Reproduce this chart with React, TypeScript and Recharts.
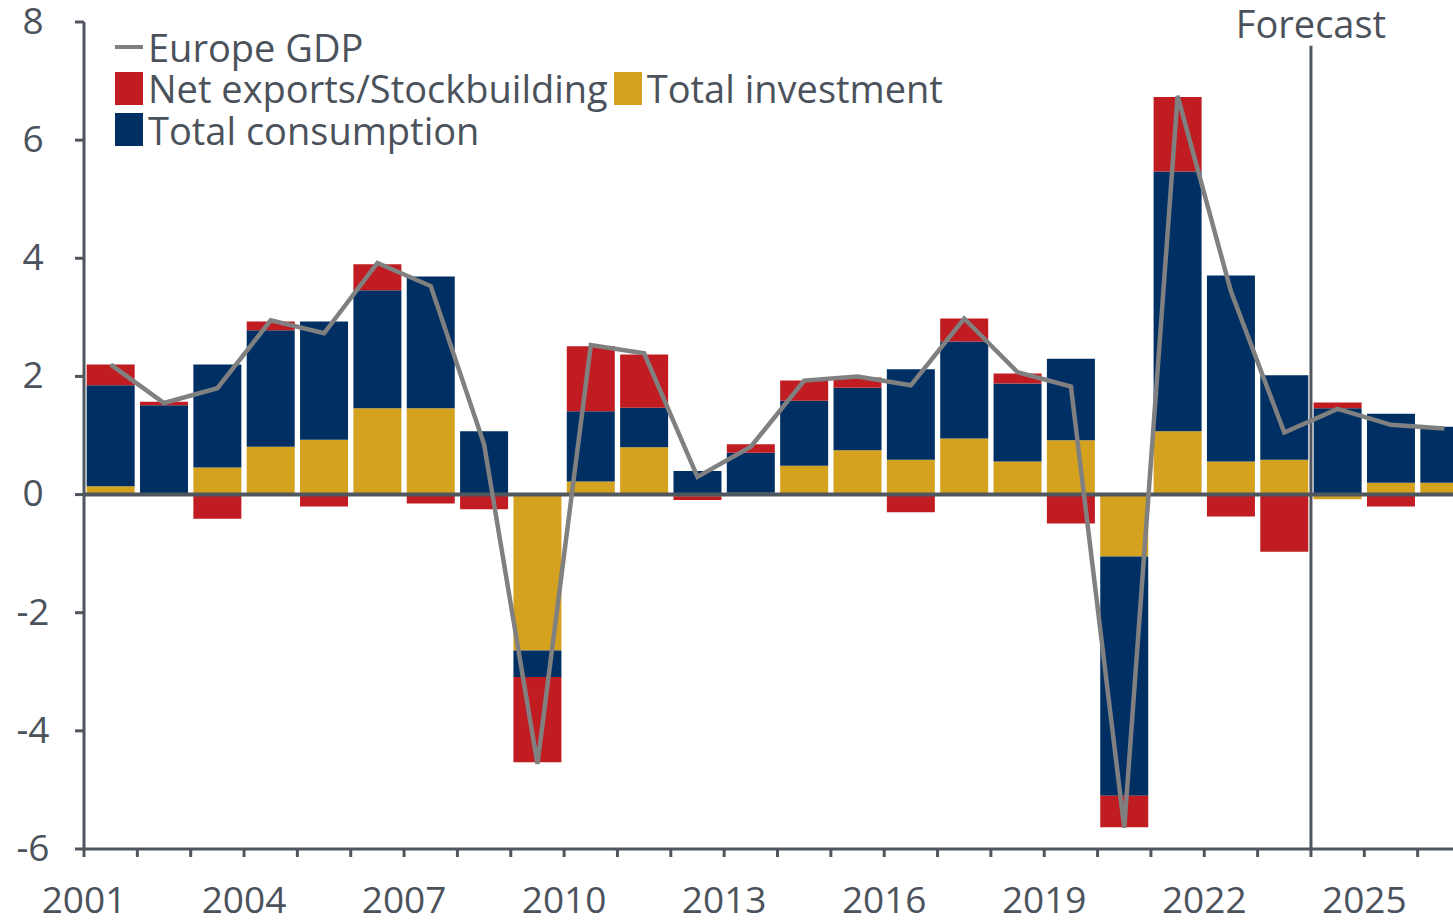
import React from "react";
import {
  ComposedChart,
  Bar,
  Line,
  XAxis,
  YAxis,
  ReferenceLine,
  Legend,
} from "recharts";

const years = [
  "2001", "2002", "2003", "2004", "2005", "2006", "2007", "2008", "2009", "2010",
  "2011", "2012", "2013", "2014", "2015", "2016", "2017", "2018", "2019", "2020",
  "2021", "2022", "2023", "2024", "2025", "2026",
];
const investment = [
  0.14, 0, 0.46, 0.81, 0.93, 1.46, 1.46, 0, -2.64, 0.22,
  0.8, -0.03, 0.03, 0.49, 0.75, 0.59, 0.95, 0.56, 0.92, -1.05,
  1.07, 0.56, 0.59, -0.08, 0.2, 0.2,
];
const consumption = [
  1.71, 1.51, 1.74, 1.97, 2.0, 2.0, 2.23, 1.07, -0.45, 1.19,
  0.67, 0.4, 0.68, 1.1, 1.06, 1.53, 1.64, 1.32, 1.38, -4.05,
  4.4, 3.15, 1.43, 1.46, 1.17, 0.95,
];
const netExports = [
  0.35, 0.06, -0.41, 0.15, -0.2, 0.44, -0.15, -0.25, -1.44, 1.1,
  0.9, -0.06, 0.14, 0.34, 0.17, -0.3, 0.39, 0.17, -0.49, -0.53,
  1.26, -0.37, -0.97, 0.1, -0.2, 0,
];
const gdp = [
  2.2, 1.55, 1.8, 2.95, 2.73, 3.92, 3.53, 0.85, -4.56, 2.53,
  2.39, 0.3, 0.81, 1.93, 2.0, 1.85, 2.98, 2.07, 1.83, -5.64,
  6.75, 3.44, 1.05, 1.45, 1.18, 1.12,
];
const yTicks = [-6, -4, -2, 0, 2, 4, 6, 8];
const forecastYear = "2024";

const data = years.map((y, i) => ({
  year: y,
  inv: investment[i],
  cons: consumption[i],
  net: netExports[i],
  gdp: gdp[i],
}));

const FONT = "'Open Sans', 'Noto Sans', sans-serif";
const TEXT = "#4b525b";
const AXIS = "#50565e";
const NAVY = "#003063";
const GOLD = "#d4a21f";
const RED = "#c01c22";
const GREY = "#808080";

const W = 1471;
const H = 921;
const Y_AXIS_W = 84;
const X_AXIS_H = 72;
const BAND = (W - Y_AXIS_W) / years.length;

function XTick({ x, y, payload, index }: any) {
  const left = x - BAND / 2;
  return (
    <g>
      <line x1={left} x2={left} y1={y} y2={y + 8} stroke={AXIS} strokeWidth={3} />
      {index % 3 === 0 && (
        <text
          x={left}
          y={y + 54}
          textAnchor="middle"
          dominantBaseline="middle"
          fill={TEXT}
          fontSize={37}
          fontFamily={FONT}
        >
          {payload.value}
        </text>
      )}
    </g>
  );
}

function YTick({ y, payload }: any) {
  return (
    <text
      x={33}
      y={y + 2}
      textAnchor="middle"
      dominantBaseline="middle"
      fill={TEXT}
      fontSize={37}
      fontFamily={FONT}
    >
      {payload.value}
    </text>
  );
}

function Swatch({ color }: { color: string }) {
  return (
    <span
      style={{
        display: "inline-block",
        width: 28,
        height: 33,
        background: color,
        marginRight: 5,
        flex: "none",
      }}
    />
  );
}

function renderLegend() {
  const row: React.CSSProperties = {
    display: "flex",
    alignItems: "center",
    height: 41.5,
    whiteSpace: "nowrap",
  };
  return (
    <div style={{ fontFamily: FONT, fontSize: 38, color: TEXT, lineHeight: 1 }}>
      <div style={row}>
        <span
          style={{
            display: "inline-block",
            width: 28,
            height: 4,
            background: GREY,
            marginRight: 5,
          }}
        />
        Europe GDP
      </div>
      <div style={row}>
        <Swatch color={RED} />
        Net exports/Stockbuilding
        <span style={{ width: 6 }} />
        <Swatch color={GOLD} />
        Total investment
      </div>
      <div style={row}>
        <Swatch color={NAVY} />
        Total consumption
      </div>
    </div>
  );
}

export default function App() {
  return (
    <div
      style={{
        position: "absolute",
        left: 0,
        top: 0,
        width: 1453,
        height: 921,
        overflow: "hidden",
        background: "#fff",
      }}
    >
      <ComposedChart
        width={W}
        height={H}
        data={data}
        stackOffset="sign"
        barCategoryGap="5%"
        margin={{ top: 22, right: 0, bottom: 0, left: 0 }}
      >
        <XAxis
          dataKey="year"
          height={X_AXIS_H}
          interval={0}
          tickLine={false}
          tickSize={0}
          tickMargin={0}
          axisLine={{ stroke: AXIS, strokeWidth: 3 }}
          tick={<XTick />}
        />
        <YAxis
          width={Y_AXIS_W}
          domain={[-6, 8]}
          ticks={yTicks}
          interval={0}
          allowDataOverflow
          tickSize={9}
          tickLine={{ stroke: AXIS, strokeWidth: 3 }}
          axisLine={{ stroke: AXIS, strokeWidth: 3 }}
          tick={<YTick />}
        />
        <Legend
          content={renderLegend}
          layout="vertical"
          verticalAlign="middle"
          align="center"
          wrapperStyle={{ top: 26, left: 115, width: "auto" }}
        />
        <Bar dataKey="inv" name="Total investment" stackId="a" fill={GOLD} isAnimationActive={false} />
        <Bar dataKey="cons" name="Total consumption" stackId="a" fill={NAVY} isAnimationActive={false} />
        <Bar dataKey="net" name="Net exports/Stockbuilding" stackId="a" fill={RED} isAnimationActive={false} />
        <ReferenceLine y={0} stroke={AXIS} strokeWidth={4} />
        <ReferenceLine
          position="start"
          segment={[
            { x: forecastYear, y: -6 },
            { x: forecastYear, y: 7.6 },
          ]}
          stroke={AXIS}
          strokeWidth={3}
          label={{
            value: "Forecast",
            position: "top",
            offset: 8,
            fill: TEXT,
            fontSize: 38,
            fontFamily: FONT,
          }}
        />
        <Line
          dataKey="gdp"
          name="Europe GDP"
          type="linear"
          stroke={GREY}
          strokeWidth={4.5}
          dot={false}
          isAnimationActive={false}
        />
      </ComposedChart>
    </div>
  );
}
